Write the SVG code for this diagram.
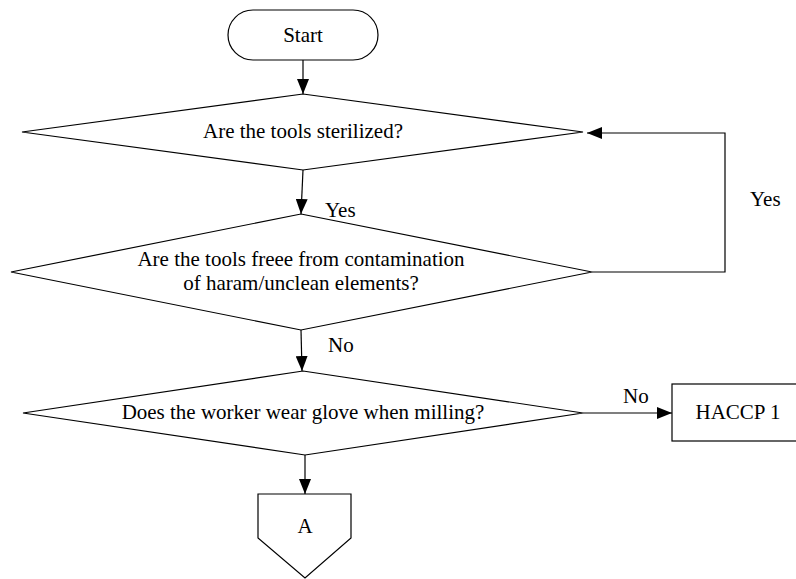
<svg xmlns="http://www.w3.org/2000/svg" width="796" height="579" viewBox="0 0 796 579">
<style>
.s{fill:#fff;stroke:#000;stroke-width:1.2}
.c{fill:none;stroke:#000;stroke-width:1.2}
.m{text-anchor:middle}
</style>
<defs>
<marker id="ah" markerUnits="userSpaceOnUse" markerWidth="16" markerHeight="12" refX="15" refY="6" orient="auto">
<path d="M0,0 L15,6 L0,12 z" fill="#000"/>
</marker>
</defs>
<g font-family="Liberation Serif, Times New Roman, Times, serif" font-size="21" fill="#000">
<g id="connectors">
<line class="c" x1="303" y1="60" x2="303" y2="94" marker-end="url(#ah)"/>
<line class="c" x1="303" y1="170" x2="301" y2="214" marker-end="url(#ah)"/>
<line class="c" x1="301" y1="330" x2="302" y2="371" marker-end="url(#ah)"/>
<line class="c" x1="305" y1="455" x2="305" y2="494" marker-end="url(#ah)"/>
<polyline class="c" points="592,272 725,272 725,133 587,133" marker-end="url(#ah)"/>
<line class="c" x1="583" y1="413" x2="672" y2="413" marker-end="url(#ah)"/>
<text x="325" y="217">Yes</text>
<text x="750" y="206">Yes</text>
<text x="328" y="352">No</text>
<text x="623" y="403">No</text>
</g>
<g id="start">
<rect class="s" x="228" y="10" width="150" height="50" rx="25" ry="25"/>
<text class="m" x="303" y="42">Start</text>
</g>
<g id="d1">
<polygon class="s" points="303,94 583,132 303,170 22,132"/>
<text class="m" x="303" y="138">Are the tools sterilized?</text>
</g>
<g id="d2">
<polygon class="s" points="301,214 592,272 301,330 11,272"/>
<text class="m" x="301" y="266">Are the tools freee from contamination</text>
<text class="m" x="301" y="290">of haram/unclean elements?</text>
</g>
<g id="d3">
<polygon class="s" points="303,371 583,413 305,455 23,413"/>
<text class="m" x="303" y="419">Does the worker wear glove when milling?</text>
</g>
<g id="haccp">
<rect class="s" x="672" y="384" width="132" height="57"/>
<text class="m" x="738" y="419">HACCP 1</text>
</g>
<g id="a">
<polygon class="s" points="258,494 351,494 351,538 305,578 258,538"/>
<text class="m" x="305" y="533">A</text>
</g>
</g>
</svg>
